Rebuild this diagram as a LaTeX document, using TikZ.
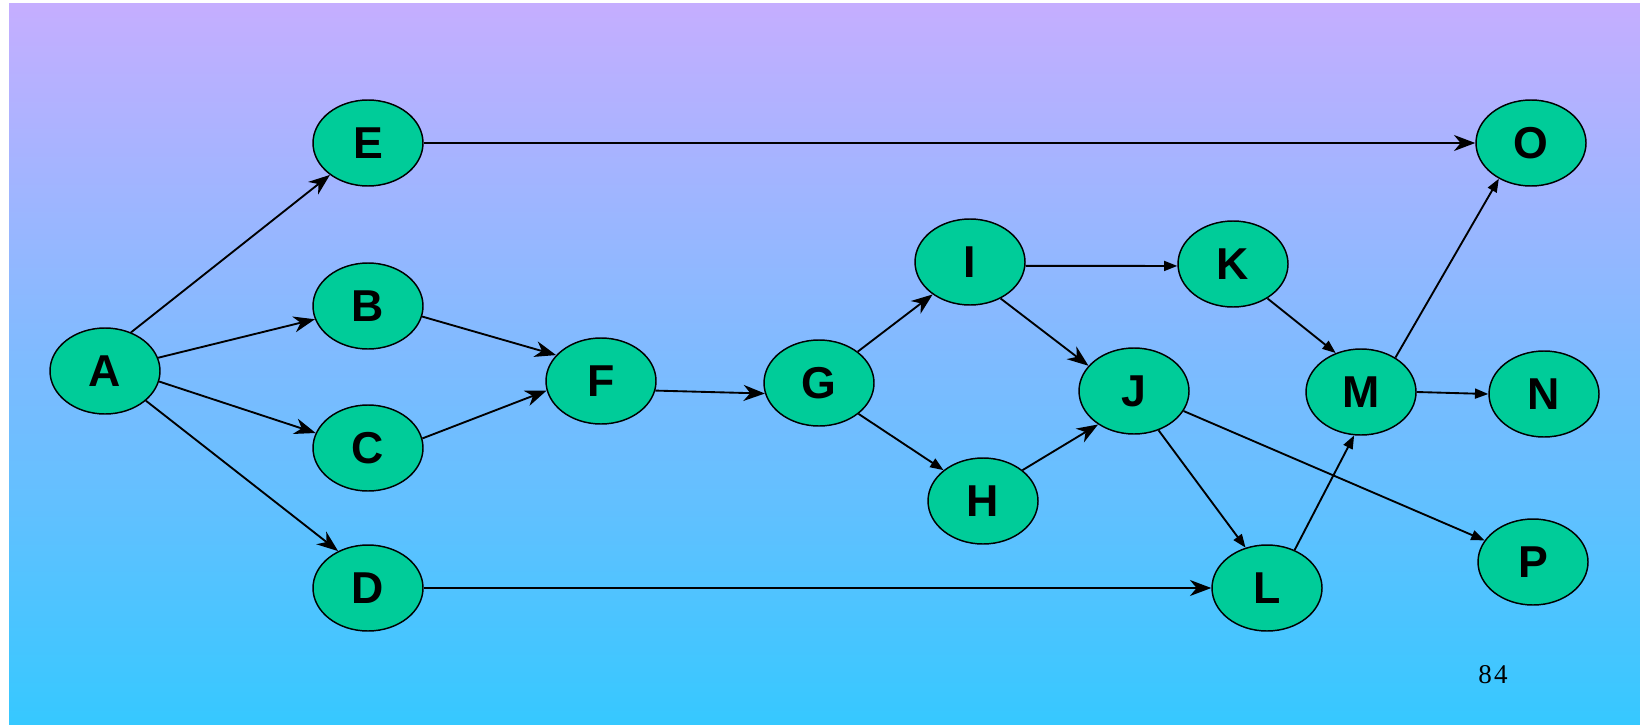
\documentclass[tikz,border=0pt]{standalone}
\usepackage{fontspec}
\setmainfont{Liberation Sans}
\newfontfamily\serifnum{Liberation Serif}
\usetikzlibrary{arrows.meta,shapes.geometric}
\definecolor{bgtop}{RGB}{197,174,255}
\definecolor{bgbot}{RGB}{54,200,255}
\definecolor{nodefill}{RGB}{0,204,153}
\tikzset{
  ev/.style={ellipse,draw=black,line width=1.1pt,fill=nodefill,inner sep=0pt,
    minimum width=82.5pt,minimum height=64.5pt,
    font=\fontsize{33.5}{40}\selectfont\bfseries},
  big/.style={line width=1.4pt,-{Stealth[length=16pt,width=12pt,inset=5pt]}},
  small/.style={line width=1.4pt,-{Triangle[length=10pt,width=7.5pt]}}
}
\begin{document}
\begin{tikzpicture}[x=0.75pt,y=-0.75pt]
\useasboundingbox (0,0) rectangle (1640,724);
\fill[white] (0,0) rectangle (1640,724);
\shade[top color=bgtop,bottom color=bgbot] (9,4) rectangle (1640,724);

\node[ev] (A) at (105,371) {A};
\node[ev] (E) at (368,143) {E};
\node[ev] (B) at (368,306) {B};
\node[ev] (C) at (368,448) {C};
\node[ev] (D) at (368,588) {D};
\node[ev] (F) at (601,381) {F};
\node[ev] (G) at (819,383) {G};
\node[ev] (I) at (970,262) {I};
\node[ev] (H) at (983,501) {H};
\node[ev] (K) at (1233,264) {K};
\node[ev] (J) at (1134,391) {J};
\node[ev] (M) at (1361,392) {M};
\node[ev] (L) at (1267,588) {L};
\node[ev] (O) at (1531,143) {O};
\node[ev] (N) at (1544,394) {N};
\node[ev] (P) at (1533,562) {P};
\node[font=\serifnum\fontsize{20.3}{24}\selectfont] (pg) at (1493,675) {8\kern1.5pt 4};

\draw[big] (A.56) -- (E.220);
\draw[big] (A.14) -- (B.194);
\draw[big] (A.-11) -- (C.164);
\draw[big] (A.-36) -- (D.129);
\draw[big] (B.-11) -- (F.150);
\draw[big] (C.10) -- (F.190);
\draw[big] (F.-10) -- (G.191);
\draw[big] (G.39) -- (I.221);
\draw[small] (G.-38) -- (H.142);
\draw[small] (I.-4) -- (K.182);
\draw[big] (I.-50) -- (J.151);
\draw[big] (H.38) -- (J.223);
\draw[small] (K.-45) -- (M.123);
\draw[small] (J.-58) -- (L.118);
\draw[small] (J.-22) -- (P.156);
\draw[small] (L.54) -- (M.261);
\draw[small] (M.45) -- (O.228);
\draw[small] (M.0) -- (N.180);
\draw[big] (E.0) -- (O.180);
\draw[big] (D.0) -- (L.180);
\end{tikzpicture}
\end{document}
